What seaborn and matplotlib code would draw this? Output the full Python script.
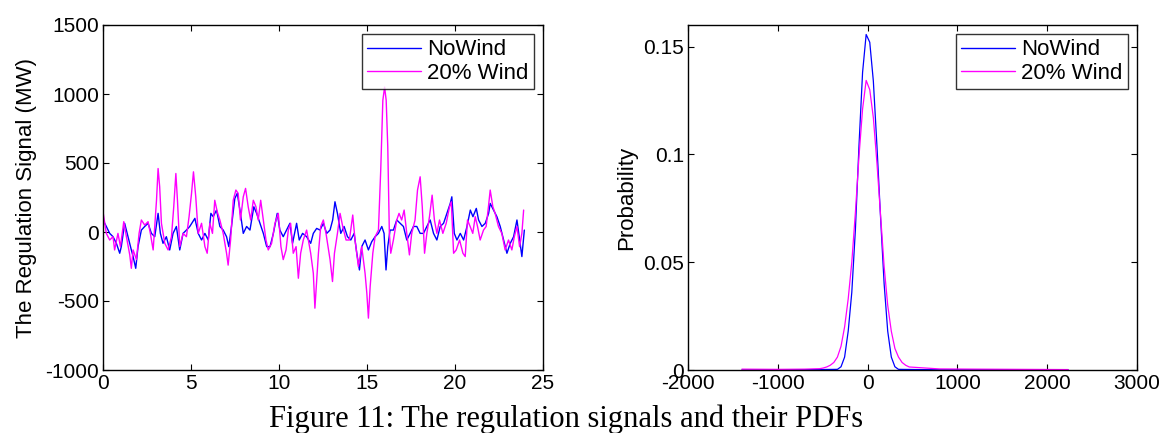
import matplotlib
matplotlib.use("Agg")
import matplotlib.pyplot as plt
import seaborn as sns
import pandas as pd
from matplotlib.ticker import FormatStrFormatter

sns.set_theme(style="white")
plt.rcParams["font.family"] = ["Liberation Sans", "DejaVu Sans"]
plt.rcParams["axes.unicode_minus"] = False
plt.rcParams["text.color"] = "black"
plt.rcParams["axes.labelcolor"] = "black"

# regulation signal, hours vs MW
wind_t = [0.00, 0.19, 0.38, 0.57, 0.66, 0.85, 0.99, 1.18, 1.33, 1.52, 1.61, 1.71, 1.90, 2.05, 2.18, 2.37,
          2.56, 2.69, 2.85, 2.94, 3.04, 3.13, 3.22, 3.32, 3.51, 3.70, 3.89, 4.02, 4.14, 4.23, 4.36, 4.55,
          4.74, 4.89, 5.03, 5.14, 5.27, 5.41, 5.60, 5.79, 5.92, 6.07, 6.22, 6.35, 6.49, 6.64, 6.83, 7.02,
          7.11, 7.25, 7.40, 7.55, 7.68, 7.81, 7.97, 8.10, 8.25, 8.39, 8.54, 8.69, 8.82, 8.96, 9.11, 9.26,
          9.39, 9.58, 9.77, 9.96, 10.11, 10.24, 10.40, 10.53, 10.66, 10.81, 10.97, 11.10, 11.23, 11.38,
          11.57, 11.80, 11.95, 12.04, 12.14, 12.24, 12.37, 12.52, 12.67, 12.90, 13.04, 13.15, 13.32,
          13.47, 13.62, 13.81, 14.00, 14.19, 14.32, 14.51, 14.70, 14.89, 14.99, 15.08, 15.18, 15.33,
          15.46, 15.65, 15.78, 15.90, 16.00, 16.09, 16.18, 16.27, 16.35, 16.50, 16.69, 16.82, 16.97,
          17.11, 17.26, 17.41, 17.54, 17.73, 17.87, 18.02, 18.14, 18.27, 18.40, 18.55, 18.70, 18.83,
          18.97, 19.12, 19.31, 19.50, 19.69, 19.79, 19.92, 20.07, 20.26, 20.45, 20.58, 20.71, 20.86,
          21.01, 21.15, 21.28, 21.43, 21.62, 21.77, 21.90, 22.00, 22.15, 22.28, 22.47, 22.66, 22.85,
          23.04, 23.23, 23.37, 23.52, 23.67, 23.80, 23.90]
wind_mw = [147, -10, -58, -34, -130, -10, -106, 75, -34, -166, -263, -130, -200, -10, 87, 50,
           75, -10, -130, 40, 230, 460, 328, 63, -82, -130, -34, 183, 424, 230, -106, -10,
           -34, 111, 280, 436, 255, -10, 63, -106, -154, 63, -10, 230, 147, 87, -10, -154,
           -240, -58, 230, 304, 280, 87, 255, 316, 183, 87, 230, 183, 87, 230, 87, -58,
           -130, -82, 63, 135, -106, -200, -130, 14, 63, -154, -106, -335, -154, -58,
           14, -154, -299, -552, -347, -154, 40, 87, -10, -200, -359, -154, -10,
           135, 40, -58, -58, 123, -58, -250, -106, -299, -443, -624, -395, -154,
           -34, 14, 448, 954, 1050, 954, 617, -10, -154, -58, 87, 135, 87,
           159, -10, -166, -10, 87, 304, 400, 183, -154, -10, 111, 267, 87,
           -10, 87, -10, 63, 183, 219, -154, -130, -58, -154, -178, 87, 40,
           -10, 111, 40, -58, 14, 40, 183, 304, 183, 135, 40, -10, -130,
           -58, -130, -34, 40, -106, -10, 159]

nowind_t = [0.00, 0.19, 0.38, 0.57, 0.76, 0.95, 1.04, 1.23, 1.42, 1.61, 1.71, 1.86, 1.99, 2.18, 2.37,
            2.56, 2.75, 2.94, 3.13, 3.26, 3.41, 3.60, 3.79, 3.98, 4.17, 4.36, 4.55, 4.74, 4.93, 5.22,
            5.41, 5.60, 5.79, 5.98, 6.13, 6.26, 6.45, 6.64, 6.83, 7.02, 7.15, 7.30, 7.49, 7.63, 7.78,
            7.97, 8.16, 8.35, 8.57, 8.73, 8.92, 9.11, 9.30, 9.49, 9.68, 9.90, 10.05, 10.24, 10.43,
            10.62, 10.77, 11.00, 11.15, 11.34, 11.57, 11.80, 11.95, 12.14, 12.33, 12.52, 12.71, 12.90,
            13.05, 13.18, 13.32, 13.51, 13.70, 13.89, 14.08, 14.27, 14.42, 14.57, 14.70, 14.89, 15.08,
            15.27, 15.46, 15.65, 15.84, 15.97, 16.08, 16.18, 16.31, 16.50, 16.69, 16.88, 17.07, 17.26,
            17.45, 17.64, 17.83, 18.02, 18.21, 18.40, 18.59, 18.78, 18.97, 19.16, 19.35, 19.54, 19.73,
            19.82, 19.96, 20.11, 20.30, 20.49, 20.68, 20.87, 21.02, 21.21, 21.34, 21.53, 21.72, 21.91,
            22.00, 22.19, 22.38, 22.57, 22.76, 22.95, 23.14, 23.33, 23.52, 23.67, 23.80, 23.94]
nowind_mw = [87, 40, -10, -34, -82, -154, -106, 63, -34, -130, -178, -263, -106, 14, 40,
             63, -10, -34, 135, -10, -82, -34, -130, -10, 40, -130, -10, 14, 40, 99,
             -10, -58, -10, -58, 135, 111, 159, 40, 14, -34, -106, 40, 243, 280, 159,
             -10, 40, 14, 183, 135, 63, -10, -106, -106, -10, 135, 14, -34, 14,
             63, -82, 63, -58, -10, -34, -82, -10, 26, 14, 63, -10, 14,
             87, 219, 135, -10, 40, -34, -58, -10, -154, -275, -106, -58, -130,
             -70, -34, -10, 40, -10, -275, -106, 14, 14, 87, 63, 40, -58,
             -10, 40, 40, -10, -10, 40, 87, -10, -58, 40, 63, 135, 207,
             255, -10, -58, -10, -58, 40, 159, 111, 171, 87, 40, 63, 135,
             207, 159, 111, 40, -58, -154, -82, -34, 87, -58, -178, 14]

# PDFs of the signal (bin centres in MW, probability)
nowind_bins = [-1400, -800, -336, -296, -256, -216, -176, -136, -96, -56, -16, 24, 64, 104, 144, 184,
               224, 264, 304, 344, 800, 1500, 2234]
nowind_prob = [0.0, 0.0001, 0.0003, 0.0015, 0.006, 0.018, 0.036, 0.065, 0.104, 0.138, 0.1556, 0.152,
               0.134, 0.104, 0.071, 0.040, 0.018, 0.006, 0.0015, 0.0003, 0.0001, 0.0001, 0.0]
wind_bins = [-1400, -1000, -700, -536, -496, -456, -416, -376, -336, -296, -256, -216, -176, -136,
             -96, -56, -16, 24, 64, 104, 144, 184, 224, 264, 304, 344, 384, 424, 464, 800, 1200,
             1700, 2234]
wind_prob = [0.0004, 0.0003, 0.0004, 0.0006, 0.0009, 0.0014, 0.0022, 0.0035, 0.006, 0.011, 0.020,
             0.033, 0.050, 0.073, 0.099, 0.121, 0.1343, 0.130, 0.117, 0.096, 0.072, 0.048, 0.030,
             0.018, 0.010, 0.006, 0.0035, 0.0022, 0.0014, 0.0005, 0.0004, 0.0003, 0.0002]

sig_df = pd.concat([
    pd.DataFrame({"t": nowind_t, "mw": nowind_mw, "case": "NoWind"}),
    pd.DataFrame({"t": wind_t, "mw": wind_mw, "case": "20% Wind"}),
])
pdf_df = pd.concat([
    pd.DataFrame({"x": nowind_bins, "p": nowind_prob, "case": "NoWind"}),
    pd.DataFrame({"x": wind_bins, "p": wind_prob, "case": "20% Wind"}),
])
colors = {"NoWind": "#0000ff", "20% Wind": "#ff00ff"}

fig = plt.figure(figsize=(11.74, 4.33), dpi=100)
ax1 = fig.add_axes([103 / 1174, 63 / 433, 440 / 1174, 345 / 433])
ax2 = fig.add_axes([688 / 1174, 63 / 433, 449 / 1174, 345 / 433])

sns.lineplot(data=sig_df, x="t", y="mw", hue="case", palette=colors, sort=False,
             estimator=None, linewidth=1.0, ax=ax1)
sns.lineplot(data=pdf_df, x="x", y="p", hue="case", palette=colors, sort=False,
             estimator=None, linewidth=0.9, ax=ax2)

ax1.set_xlim(0, 25)
ax1.set_ylim(-1000, 1500)
ax1.set_xticks(range(0, 26, 5))
ax1.set_yticks(range(-1000, 1501, 500))
ax1.set_xlabel("")
ax1.set_ylabel("The Regulation Signal (MW)", fontsize=16, labelpad=6)

ax2.set_xlim(-2000, 3000)
ax2.set_ylim(0, 0.16)
ax2.set_xticks(range(-2000, 3001, 1000))
ax2.set_yticks([0, 0.05, 0.1, 0.15])
ax2.yaxis.set_major_formatter(FormatStrFormatter("%g"))
ax2.set_xlabel("")
ax2.set_ylabel("Probability", fontsize=16, labelpad=4)

for ax in (ax1, ax2):
    for s in ax.spines.values():
        s.set_color("black")
        s.set_linewidth(1.0)
    ax.tick_params(direction="in", length=4, width=0.8, top=True, right=True,
                   labelsize=15, colors="black", pad=3)
    ax.tick_params(axis="both", which="both", bottom=True, left=True)
    leg = ax.legend(loc="upper right", fontsize=16, frameon=True, fancybox=False,
                    handlelength=2.4, handletextpad=0.3, borderpad=0.25, labelspacing=0.1,
                    borderaxespad=0.4)
    leg.get_frame().set_edgecolor("black")
    leg.get_frame().set_linewidth(1.0)
    for line in leg.get_lines():
        line.set_linewidth(1.0)

fig.text(566 / 1174, 6 / 433, "Figure 11: The regulation signals and their PDFs", ha="center",
         va="baseline", fontsize=22, family="Liberation Serif")

fig.savefig("out.png", dpi=100)
